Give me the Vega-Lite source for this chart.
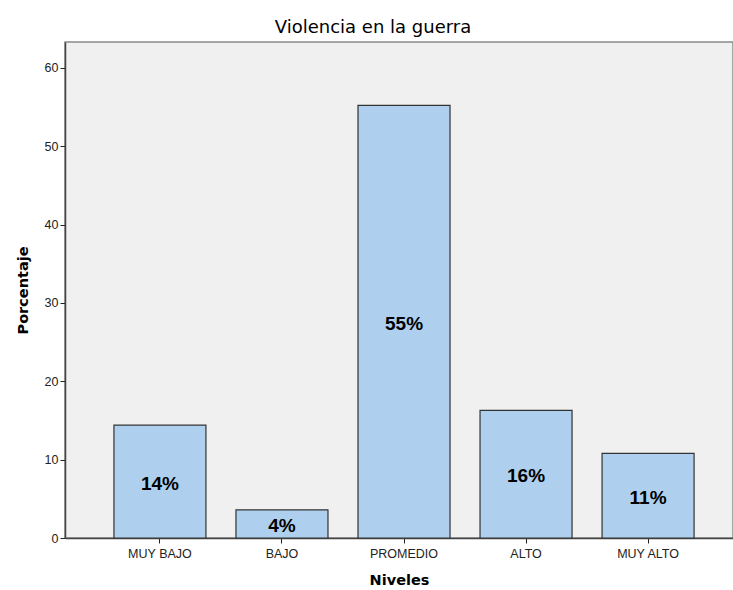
{
  "$schema": "https://vega.github.io/schema/vega-lite/v6.json",
  "autosize": "none",
  "padding": {"left": 65, "top": 42, "right": 0, "bottom": 52},
  "width": 668,
  "height": 496,
  "background": "white",
  "title": {"text": "Violencia en la guerra", "fontSize": 18, "font": "DejaVu Sans", "fontWeight": "normal", "color": "#000000", "offset": 5, "dx": -26},
  "config": {
    "view": {"fill": "#f0f0f0", "stroke": "#8a8a8a", "strokeWidth": 1.5},
    "axis": {"labelFont": "Liberation Sans", "titleFont": "DejaVu Sans", "labelColor": "#222222", "titleColor": "#000000", "domainColor": "#444444", "tickColor": "#222222", "grid": false, "labelFontSize": 12.5, "titleFontSize": 14.5, "titleFontWeight": "bold"}
  },
  "data": {"values": [
    {"Nivel": "MUY BAJO", "Porcentaje": 14.4, "label": "14%"},
    {"Nivel": "BAJO", "Porcentaje": 3.6, "label": "4%"},
    {"Nivel": "PROMEDIO", "Porcentaje": 55.2, "label": "55%"},
    {"Nivel": "ALTO", "Porcentaje": 16.3, "label": "16%"},
    {"Nivel": "MUY ALTO", "Porcentaje": 10.8, "label": "11%"}
  ]},
  "transform": [{"calculate": "datum.Porcentaje / 2", "as": "mid"}],
  "encoding": {
    "x": {"field": "Nivel", "type": "nominal", "sort": null,
      "scale": {"paddingInner": 0.246, "paddingOuter": 0.36, "align": 0.557},
      "axis": {"title": "Niveles", "labelAngle": 0, "tickSize": 5, "labelPadding": 4, "titlePadding": 14, "domainWidth": 1.5}}
  },
  "layer": [
    {
      "mark": {"type": "bar", "fill": "#aed0ee", "stroke": "#333333", "strokeWidth": 1.2},
      "encoding": {
        "y": {"field": "Porcentaje", "type": "quantitative",
          "scale": {"domain": [0, 63.3], "nice": false},
          "axis": {"title": "Porcentaje", "values": [0, 10, 20, 30, 40, 50, 60], "tickSize": 5, "labelPadding": 2, "titlePadding": 14, "domainWidth": 1.5}}
      }
    },
    {
      "mark": {"type": "text", "font": "Liberation Sans", "fontSize": 19, "fontWeight": "bold", "color": "#000000", "baseline": "middle", "dy": 2},
      "encoding": {
        "y": {"field": "mid", "type": "quantitative"},
        "text": {"field": "label"}
      }
    }
  ]
}
